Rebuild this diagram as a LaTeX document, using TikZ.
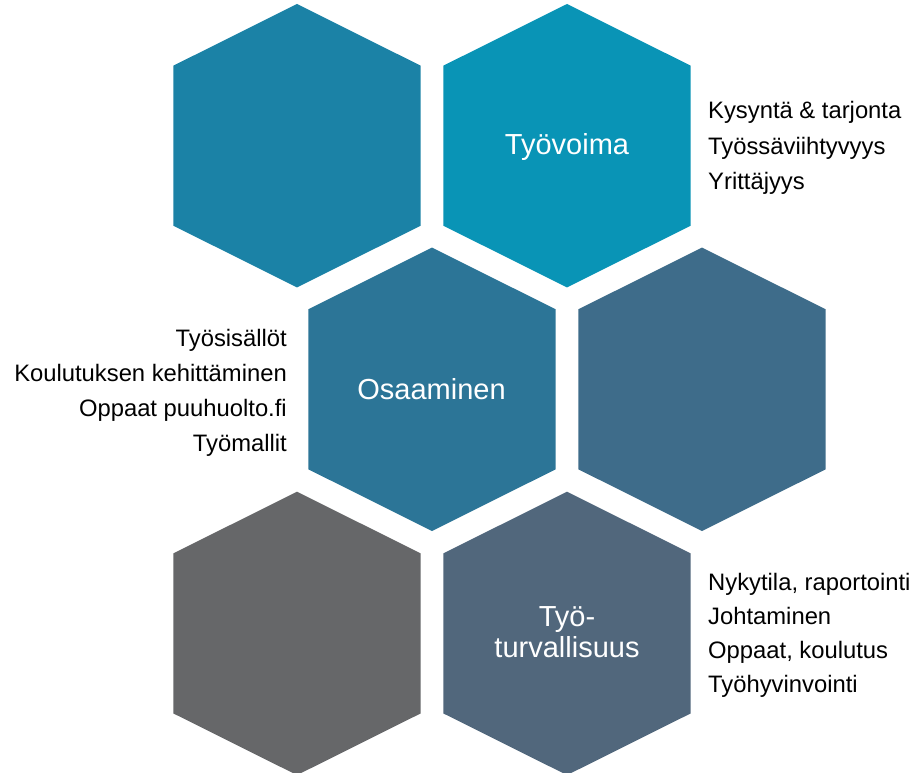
\documentclass[tikz,border=0pt]{standalone}
\usepackage{fontspec}
\setmainfont{Liberation Sans}
\definecolor{hexA}{HTML}{1B82A6}
\definecolor{hexB}{HTML}{0994B6}
\definecolor{hexC}{HTML}{2C7597}
\definecolor{hexD}{HTML}{3E6C8A}
\definecolor{hexE}{HTML}{666769}
\definecolor{hexF}{HTML}{51677C}
\tikzset{
  pics/hexa/.style={code={\fill[#1] (0,-141.7) -- (123.7,-80) -- (123.7,80) -- (0,141.7) -- (-123.7,80) -- (-123.7,-80) -- cycle;}},
  hexlabel/.style={text=white, font=\fontsize{29}{31}\selectfont, inner sep=0pt, anchor=base},
  listR/.style={text=black, font=\fontsize{23.8}{35}\selectfont, inner sep=0pt, anchor=base west},
  listL/.style={text=black, font=\fontsize{23.8}{35}\selectfont, inner sep=0pt, anchor=base east}
}
\begin{document}
\begin{tikzpicture}[x=1pt,y=-1pt]
\useasboundingbox (0,0) rectangle (913,773);
\pic at (297,145.7) {hexa=hexA};
\pic at (567,145.7) {hexa=hexB};
\pic at (432,389.3) {hexa=hexC};
\pic at (702,389.3) {hexa=hexD};
\pic at (297,633.4) {hexa=hexE};
\pic at (567,633.4) {hexa=hexF};
\node[hexlabel] (tyovoima) at (567,155) {Työvoima};
\node[hexlabel] (osaaminen) at (431.5,399.3) {Osaaminen};
\node[hexlabel] (tt1) at (567,626.7) {Työ-};
\node[hexlabel] (tt2) at (567,657.3) {turvallisuus};
\node[listR] (r1) at (708,118.5) {Kysyntä \& tarjonta};
\node[listR] (r2) at (708,154) {Työssäviihtyvyys};
\node[listR] (r3) at (708,189.5) {Yrittäjyys};
\node[listL] (l1) at (287,346) {Työsisällöt};
\node[listL] (l2) at (287,381) {Koulutuksen kehittäminen};
\node[listL] (l3) at (287,416) {Oppaat puuhuolto.fi};
\node[listL] (l4) at (287,451) {Työmallit};
\node[listR] (b1) at (708,590) {Nykytila, raportointi};
\node[listR] (b2) at (708,624) {Johtaminen};
\node[listR] (b3) at (708,658) {Oppaat, koulutus};
\node[listR] (b4) at (708,692) {Työhyvinvointi};
\end{tikzpicture}
\end{document}
